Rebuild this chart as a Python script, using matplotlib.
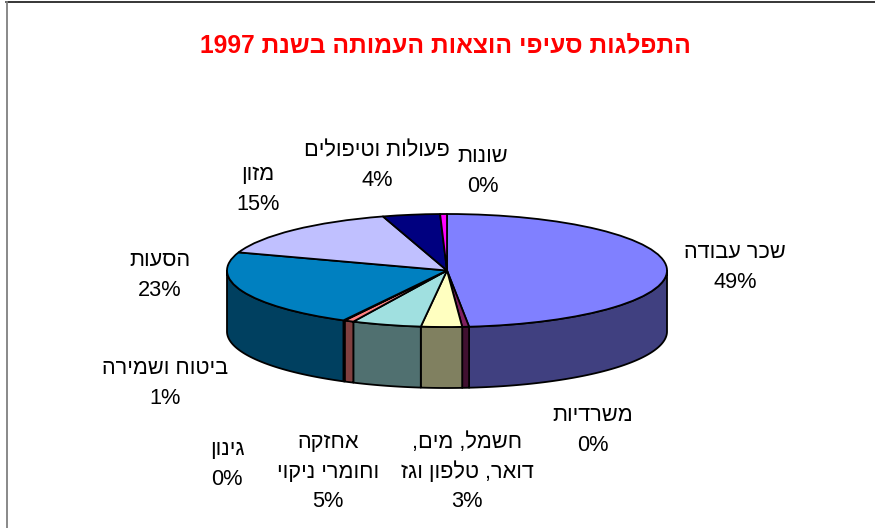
import re
import numpy as np
import matplotlib
matplotlib.use("Agg")
import matplotlib.pyplot as plt
from matplotlib.lines import Line2D

plt.rcParams['font.family'] = ['Liberation Sans', 'DejaVu Sans']

# ---- data (clockwise from 12 o'clock), percentages
title = "התפלגות סעיפי הוצאות העמותה בשנת 1997"
categories = ["שכר עבודה", "משרדיות", "חשמל, מים,\nדואר, טלפון וגז", "אחזקה\nוחומרי ניקוי",
              "ביטוח ושמירה", "גינון", "הסעות", "מזון", "פעולות וטיפולים", "שונות"]
values = [48.4, 0.5, 3.0, 5.1, 0.7, 0.1, 22.4, 15.1, 4.2, 0.5]
pct_labels = ["49%", "0%", "3%", "5%", "1%", "0%", "23%", "15%", "4%", "0%"]

# ---- styles
top_colors = ["#8080FF", "#802060", "#FFFFC0", "#A0E0E0", "#FF8080",
              "#6000A0", "#0080C0", "#C0C0FF", "#000080", "#FF00FF"]
label_centres = [(735, 267.5), (593, 430.5), (467, 472), (328, 472), (165, 383.5),
                 (227, 464.5), (160, 275.5), (258, 189.5), (377, 165.5), (483, 171.5)]

W, H = 875, 528
CX, CY, RX, RY, DEPTH = 447, 270.5, 220, 56.5, 61


def visual(s):
    """matplotlib has no bidi layout: put each RTL line into display order."""
    out = []
    for line in s.split("\n"):
        parts = re.findall(r"[0-9%]+|[^0-9%]+", line)
        out.append("".join(p if re.match(r"[0-9%]", p) else p[::-1] for p in parts[::-1]))
    return "\n".join(out)


fig = plt.figure(figsize=(W / 100, H / 100), dpi=100, facecolor="white")
ax = fig.add_axes([(CX - RX) / W, 1 - (CY + RY) / H, 2 * RX / W, 2 * RY / H])

ax.pie(values, colors=top_colors, startangle=90, counterclock=False, radius=1,
       wedgeprops=dict(edgecolor="black", linewidth=1.3, joinstyle="round"))
ax.set_aspect("auto")
ax.set_xlim(-1, 1)
ax.set_ylim(-1, 1)

# side wall: the front half of the rim (clockwise angle 90..270 from the top)
depth = DEPTH / RY
edges = np.concatenate([[0], np.cumsum(values)]) / np.sum(values) * 360
for a, b, c in zip(edges[:-1], edges[1:], top_colors):
    lo, hi = max(a, 90), min(b, 270)
    if hi <= lo:
        continue
    t = np.radians(np.linspace(lo, hi, 80))
    x, y = np.sin(t), np.cos(t)
    rgb = np.array(matplotlib.colors.to_rgb(c)) / 2
    ax.fill(np.r_[x, x[::-1]], np.r_[y, y[::-1] - depth], facecolor=rgb,
            edgecolor="black", linewidth=1.3, clip_on=False, zorder=0.5,
            joinstyle="round")

# text, in figure pixels
for name, pct, (px, py) in zip(categories, pct_labels, label_centres):
    fig.text(px / W, 1 - py / H, visual(name) + "\n" + pct, ha="center", va="center",
             ma="center", fontsize=15.7, linespacing=1.53, color="black")
fig.text(445.5 / W, 1 - 45 / H, visual(title), ha="center", va="center", fontsize=17.7,
         fontweight="bold", color="#FF0000")

# slide frame
fig.add_artist(Line2D([6 / W, 1], [1 - 2.3 / H] * 2, color="black", lw=1.1))
fig.add_artist(Line2D([6.7 / W] * 2, [0, 1 - 2 / H], color="#808080", lw=1.3))

fig.savefig("out.png", dpi=100)
